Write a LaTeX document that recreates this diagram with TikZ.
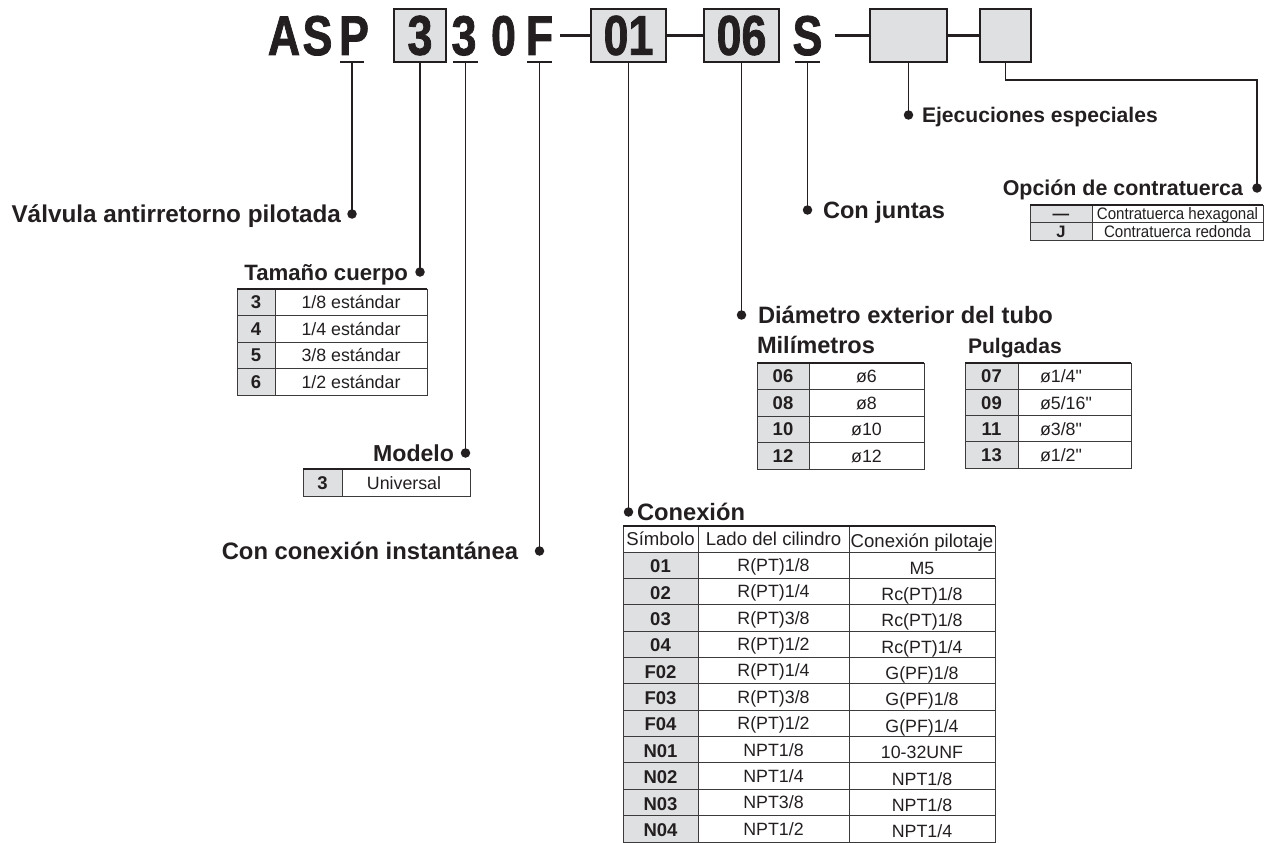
\documentclass[tikz,border=0pt]{standalone}
\usepackage{fontspec}
\setmainfont{Liberation Sans}[Ligatures=TeXOff]
\newfontfamily\codefont{Liberation Sans}[Ligatures=TeXOff,BoldFeatures={FakeBold=1.6}]
\usepackage{graphicx}
\definecolor{ink}{HTML}{231F20}
\definecolor{cellgray}{HTML}{DFE0E2}
\definecolor{gridc}{HTML}{3C3A3B}
\newcommand\fsz[1]{\fontsize{#1}{#1}\selectfont}
\newcommand\cond[1]{\scalebox{0.8}[1]{#1}}
\newcommand\narrow[1]{\scalebox{0.91}[1]{#1}}
\newcommand\crow[4]{%
  \node[kcell] (ck#1) at (660.5,{552+26.36*(#1-0.5)+7.6}) {#2};
  \node[vcell] (cl#1) at (773.5,{552+26.36*(#1-0.5)+6.3}) {#3};
  \node[vcell] (cp#1) at (922,{552+26.36*(#1-0.5)+9}) {#4};}
\begin{document}
\begin{tikzpicture}[x=1pt,y=-1pt,
  every node/.style={inner sep=0pt,outer sep=0pt,text=ink},
  codech/.style={font=\codefont\bfseries\fsz{56},anchor=base},
  codebox/.style={draw=ink,line width=2pt,fill=cellgray,font=\codefont\bfseries\fsz{56},minimum height=53pt},
  joinline/.style={draw=ink,line width=3pt},
  conn/.style={draw=ink,line width=1.6pt},
  uline/.style={draw=ink,line width=2pt},
  dot/.style={circle,fill=ink,minimum size=9.5pt},
  grid/.style={draw=gridc,line width=1pt},
  topedge/.style={draw=ink,line width=2pt},
  kcell/.style={font=\bfseries\fsz{18.5},anchor=base},
  vcell/.style={font=\fsz{17.8},anchor=base},
  hcell/.style={font=\fsz{18.6},anchor=base},
  scell/.style={font=\fsz{16.6},anchor=base},
  skcell/.style={font=\bfseries\fsz{16.6},anchor=base}
]
\useasboundingbox (0,0) rectangle (1272,843);

% ---------- code line ----------
\node[codech] (cA) at (284,55) {\cond{A}};
\node[codech] (cS1) at (317.5,55) {\cond{S}};
\node[codech] (cP) at (354,55) {\cond{P}};
\node[codebox,minimum width=52pt] (b3) at (420,35.5) {\cond{3}};
\node[codech] (c3) at (464,55) {\cond{3}};
\node[codech] (c0) at (503.5,55) {\cond{0}};
\node[codech] (cF) at (539.5,55) {\cond{F}};
\node[codebox,minimum width=75pt] (b01) at (628.5,35.5) {\cond{01}};
\node[codebox,minimum width=75pt] (b06) at (741.5,35.5) {\cond{06}};
\node[codech] (cS2) at (807.5,55) {\cond{S}};
\node[codebox,minimum width=77pt] (be1) at (908.5,35.5) {};
\node[codebox,minimum width=51pt] (be2) at (1005.5,35.5) {};

\coordinate (jF) at (560,35.5);
\coordinate (jS) at (835,35.5);
\draw[joinline] (jF) -- (b01.west);
\draw[joinline] (b01.east) -- (b06.west);
\draw[joinline] (jS) -- (be1.west);
\draw[joinline] (be1.east) -- (be2.west);

% underlines
\coordinate (uP) at (352,62);
\coordinate (u3) at (465.5,62);
\coordinate (uF) at (539.5,62);
\coordinate (uS) at (807.5,62);
\draw[uline] ([xshift=-12pt]uP) -- ([xshift=12pt]uP);
\draw[uline] ([xshift=-12.5pt]u3) -- ([xshift=12.5pt]u3);
\draw[uline] ([xshift=-12.5pt]uF) -- ([xshift=12.5pt]uF);
\draw[uline] ([xshift=-12.5pt]uS) -- ([xshift=12.5pt]uS);

% ---------- dots ----------
\node[dot] (dVal) at (352,214) {};
\node[dot] (dTam) at (420,272) {};
\node[dot] (dMod) at (465.5,453) {};
\node[dot] (dIns) at (539.5,551) {};
\node[dot] (dCon) at (628.5,512) {};
\node[dot] (dDia) at (741.5,315) {};
\node[dot] (dJun) at (807.5,210) {};
\node[dot] (dEje) at (908.5,115) {};
\node[dot] (dOpc) at (1257,188) {};
\coordinate (bend1) at (1005.5,80);
\coordinate (bend2) at (1257,80);

\draw[conn] (uP) -- (dVal.center);
\draw[conn] (b3.south) -- (dTam.center);
\draw[conn] (u3) -- (dMod.center);
\draw[conn] (uF) -- (dIns.center);
\draw[conn] (b01.south) -- (dCon.center);
\draw[conn] (b06.south) -- (dDia.center);
\draw[conn] (uS) -- (dJun.center);
\draw[conn] (be1.south) -- (dEje.center);
\draw[conn] (be2.south) -- (bend1) -- (bend2) -- (dOpc.center);

% ---------- labels ----------
\node[font=\bfseries\fsz{24.3},anchor=base east] (tVal) at (341,222.5) {Válvula antirretorno pilotada};
\node[font=\bfseries\fsz{22.2},anchor=base east] (tTam) at (408,280) {Tamaño cuerpo};
\node[font=\bfseries\fsz{23.1},anchor=base east] (tMod) at (454,461.3) {Modelo};
\node[font=\bfseries\fsz{23.8},anchor=base east] (tIns) at (518,559.5) {Con conexión instantánea};
\node[font=\bfseries\fsz{23.7},anchor=base west] (tCon) at (637,520.5) {Conexión};
\node[font=\bfseries\fsz{23.7},anchor=base west] (tDia) at (758,323.5) {Diámetro exterior del tubo};
\node[font=\bfseries\fsz{23.6},anchor=base west] (tMil) at (757,353) {Milímetros};
\node[font=\bfseries\fsz{21.1},anchor=base west] (tPul) at (968,353) {Pulgadas};
\node[font=\bfseries\fsz{23.6},anchor=base west] (tJun) at (823,218.5) {Con juntas};
\node[font=\bfseries\fsz{21.1},anchor=base west] (tEje) at (922,122.5) {Ejecuciones especiales};
\node[font=\bfseries\fsz{21.4},anchor=base east] (tOpc) at (1243,195.7) {Opción de contratuerca};

% ---------- Tamaño cuerpo table ----------
\fill[cellgray] (237,289) rectangle (275,395);
\draw[grid] (237,289) rectangle (427,395);
\draw[grid] (275,289) -- (275,395);
\foreach \i in {1,2,3} \draw[grid] (237,{289+26.5*\i}) -- (427,{289+26.5*\i});
\draw[topedge] (237,289) -- (427,289);
\node[kcell] (tk1) at (256,308.9) {3};
\node[vcell] (tv1) at (351,308.9) {1/8 estándar};
\node[kcell] (tk2) at (256,335.4) {4};
\node[vcell] (tv2) at (351,335.4) {1/4 estándar};
\node[kcell] (tk3) at (256,361.9) {5};
\node[vcell] (tv3) at (351,361.9) {3/8 estándar};
\node[kcell] (tk4) at (256,388.4) {6};
\node[vcell] (tv4) at (351,388.4) {1/2 estándar};

% ---------- Modelo table ----------
\fill[cellgray] (303,469) rectangle (342,496);
\draw[grid] (303,469) rectangle (470,496);
\draw[grid] (342,469) -- (342,496);
\draw[topedge] (303,469) -- (470,469);
\node[kcell] (mk1) at (322.5,489) {3};
\node[vcell] (mv1) at (404,489) {Universal};

% ---------- Milimetros table ----------
\fill[cellgray] (757,363) rectangle (809,469);
\draw[grid] (757,363) rectangle (924,469);
\draw[grid] (809,363) -- (809,469);
\foreach \i in {1,2,3} \draw[grid] (757,{363+26.5*\i}) -- (924,{363+26.5*\i});
\draw[topedge] (757,363) -- (924,363);
\node[kcell] (mmk1) at (783,382.9) {06};
\node[vcell] (mmv1) at (866.5,382.9) {ø6};
\node[kcell] (mmk2) at (783,409.4) {08};
\node[vcell] (mmv2) at (866.5,409.4) {ø8};
\node[kcell] (mmk3) at (783,435.9) {10};
\node[vcell] (mmv3) at (866.5,435.9) {ø10};
\node[kcell] (mmk4) at (783,462.4) {12};
\node[vcell] (mmv4) at (866.5,462.4) {ø12};

% ---------- Pulgadas table ----------
\fill[cellgray] (965,363) rectangle (1018,468);
\draw[grid] (965,363) rectangle (1131,468);
\draw[grid] (1018,363) -- (1018,468);
\foreach \i in {1,2,3} \draw[grid] (965,{363+26.25*\i}) -- (1131,{363+26.25*\i});
\draw[topedge] (965,363) -- (1131,363);
\node[kcell] (pk1) at (991.5,382.8) {07};
\node[vcell,anchor=base west] (pv1) at (1040,382.8) {ø1/4"};
\node[kcell] (pk2) at (991.5,409.1) {09};
\node[vcell,anchor=base west] (pv2) at (1040,409.1) {ø5/16"};
\node[kcell] (pk3) at (991.5,435.3) {11};
\node[vcell,anchor=base west] (pv3) at (1040,435.3) {ø3/8"};
\node[kcell] (pk4) at (991.5,461.6) {13};
\node[vcell,anchor=base west] (pv4) at (1040,461.6) {ø1/2"};

% ---------- Contratuerca table ----------
\fill[cellgray] (1030,205) rectangle (1092,240);
\draw[grid] (1030,205) rectangle (1263,240);
\draw[grid] (1092,205) -- (1092,240);
\draw[grid] (1030,222.5) -- (1263,222.5);
\draw[topedge] (1030,205) -- (1263,205);
\node[skcell] (ok1) at (1061,219.8) {—};
\node[scell] (ov1) at (1177.5,219.6) {\narrow{Contratuerca hexagonal}};
\node[skcell] (ok2) at (1061,237.4) {J};
\node[scell] (ov2) at (1177.5,237.2) {\narrow{Contratuerca redonda}};

% ---------- Conexion table ----------
\fill[cellgray] (623,552) rectangle (698,842);
\draw[grid] (623,526) rectangle (995,842);
\draw[grid] (698,526) -- (698,842);
\draw[grid] (849,526) -- (849,842);
\foreach \i in {0,...,10} \draw[grid] (623,{552+26.36*\i}) -- (995,{552+26.36*\i});
\draw[topedge] (623,526) -- (995,526);
\node[hcell] (ch1) at (660.5,545.7) {Símbolo};
\node[hcell] (ch2) at (773.5,545.7) {Lado del cilindro};
\node[hcell] (ch3) at (922,547) {Conexión pilotaje};
\crow{1}{01}{R(PT)1/8}{M5}
\crow{2}{02}{R(PT)1/4}{Rc(PT)1/8}
\crow{3}{03}{R(PT)3/8}{Rc(PT)1/8}
\crow{4}{04}{R(PT)1/2}{Rc(PT)1/4}
\crow{5}{F02}{R(PT)1/4}{G(PF)1/8}
\crow{6}{F03}{R(PT)3/8}{G(PF)1/8}
\crow{7}{F04}{R(PT)1/2}{G(PF)1/4}
\crow{8}{N01}{NPT1/8}{10-32UNF}
\crow{9}{N02}{NPT1/4}{NPT1/8}
\crow{10}{N03}{NPT3/8}{NPT1/8}
\crow{11}{N04}{NPT1/2}{NPT1/4}
\end{tikzpicture}
\end{document}
